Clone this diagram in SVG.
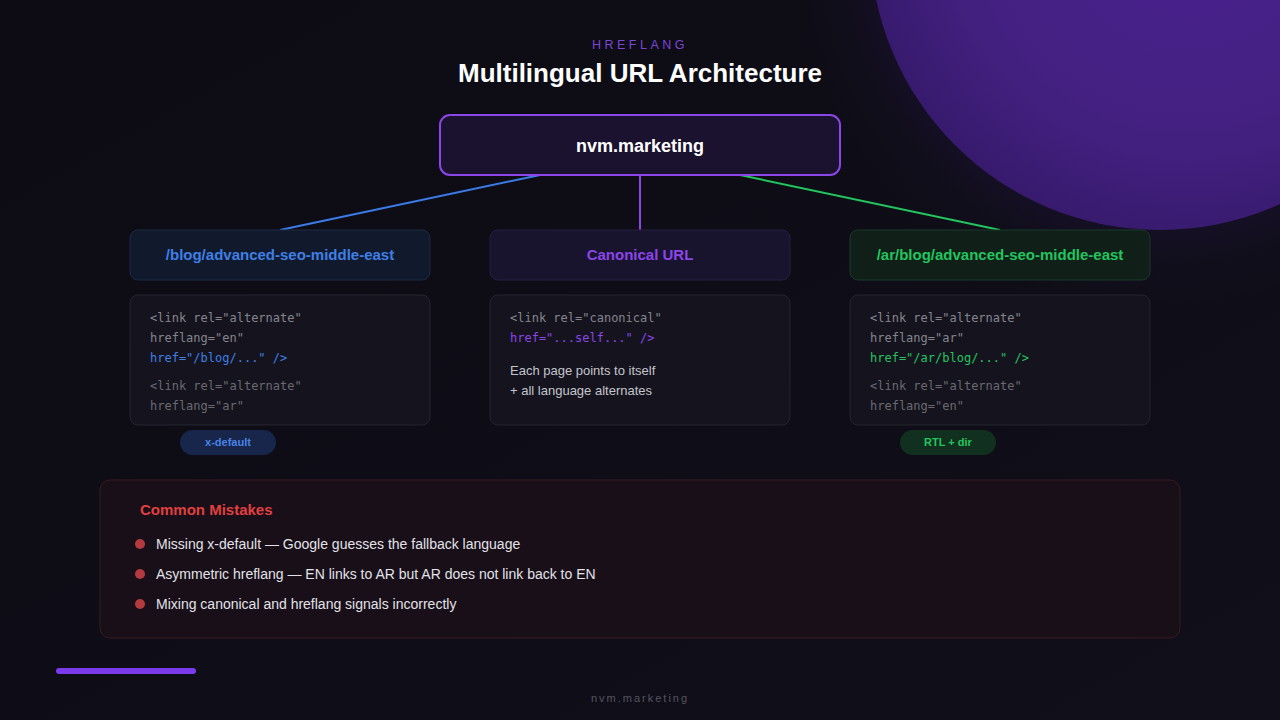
<svg xmlns="http://www.w3.org/2000/svg" width="1280" height="720" viewBox="0 0 1280 720">
<defs>
<radialGradient id="orb" cx="0.55" cy="0.45" r="0.6">
<stop offset="0" stop-color="#4a2290"/>
<stop offset="0.7" stop-color="#42207f"/>
<stop offset="1" stop-color="#35196a"/>
</radialGradient>
<radialGradient id="halo" cx="0.5" cy="0.5" r="0.5">
<stop offset="0.55" stop-color="#2a1450" stop-opacity="0.8"/>
<stop offset="1" stop-color="#0f0e17" stop-opacity="0"/>
</radialGradient>
<linearGradient id="bg" x1="0" y1="0" x2="1" y2="1">
<stop offset="0" stop-color="#0d0c14"/>
<stop offset="1" stop-color="#100f1a"/>
</linearGradient>
<style>
.sans{font-family:"Liberation Sans",Arial,sans-serif}
.mono{font-family:"DejaVu Sans Mono","Liberation Mono",monospace;font-size:12px;fill:#85848e}
.hdr{font-family:"Liberation Sans",Arial,sans-serif;font-size:15px;font-weight:bold;text-anchor:middle}
.code{fill:#15141e;stroke:#25242f;stroke-width:1}
.bul{font-family:"Liberation Sans",Arial,sans-serif;font-size:14px;fill:#e2e2e8}
.dot{fill:#b33a3e}
.pill{font-family:"Liberation Sans",Arial,sans-serif;font-size:11px;font-weight:bold;text-anchor:middle}
</style>
</defs>
<rect width="1280" height="720" fill="url(#bg)"/>
<circle cx="1160" cy="-60" r="380" fill="url(#halo)"/>
<circle cx="1160" cy="-60" r="290" fill="url(#orb)"/>

<text x="640" y="49" text-anchor="middle" class="sans" font-size="12.5" letter-spacing="3.5" fill="#7a45d8">HREFLANG</text>
<text x="640" y="82" text-anchor="middle" class="sans" font-size="26" font-weight="bold" fill="#ffffff">Multilingual URL Architecture</text>

<g id="connectors" fill="none" stroke-width="2">
<line x1="540" y1="175" x2="280" y2="230" stroke="#3b7be8"/>
<line x1="640" y1="175" x2="640" y2="230" stroke="#8b45e8"/>
<line x1="740" y1="175" x2="1000" y2="230" stroke="#22c55e"/>
</g>

<g id="root">
<rect x="440" y="115" width="400" height="60" rx="10" fill="#1b1230" stroke="#8b45e8" stroke-width="2"/>
<text x="640" y="152" text-anchor="middle" class="sans" font-size="18" font-weight="bold" fill="#ffffff">nvm.marketing</text>
</g>

<g id="en-page">
<rect x="130" y="230" width="300" height="50" rx="8" fill="#111a2d" stroke="#1d2a45"/>
<text x="280" y="260" class="hdr" fill="#3f7fe6">/blog/advanced-seo-middle-east</text>
</g>
<g id="en-code">
<rect x="130" y="295" width="300" height="130" rx="8" class="code"/>
<text x="150" y="322" class="mono">&lt;link rel="alternate"</text>
<text x="150" y="342" class="mono">hreflang="en"</text>
<text x="150" y="362" class="mono" style="fill:#3f7fe6">href="/blog/..." /&gt;</text>
<text x="150" y="390" class="mono" style="fill:#6a6972">&lt;link rel="alternate"</text>
<text x="150" y="410" class="mono" style="fill:#6a6972">hreflang="ar"</text>
</g>
<g id="x-default">
<rect x="180" y="430" width="96" height="25" rx="12.5" fill="#17264a"/>
<text x="228" y="446" class="pill" fill="#4a82e6">x-default</text>
</g>

<g id="canonical">
<rect x="490" y="230" width="300" height="50" rx="8" fill="#19142e" stroke="#271e42"/>
<text x="640" y="260" class="hdr" fill="#8b45e8">Canonical URL</text>
</g>
<g id="canonical-code">
<rect x="490" y="295" width="300" height="130" rx="8" class="code"/>
<text x="510" y="322" class="mono">&lt;link rel="canonical"</text>
<text x="510" y="342" class="mono" style="fill:#8b45e8">href="...self..." /&gt;</text>
<text x="510" y="375" class="sans" font-size="13" fill="#c4c4cc">Each page points to itself</text>
<text x="510" y="395" class="sans" font-size="13" fill="#c4c4cc">+ all language alternates</text>
</g>

<g id="ar-page">
<rect x="850" y="230" width="300" height="50" rx="8" fill="#102019" stroke="#19382a"/>
<text x="1000" y="260" class="hdr" fill="#22c55e">/ar/blog/advanced-seo-middle-east</text>
</g>
<g id="ar-code">
<rect x="850" y="295" width="300" height="130" rx="8" class="code"/>
<text x="870" y="322" class="mono">&lt;link rel="alternate"</text>
<text x="870" y="342" class="mono">hreflang="ar"</text>
<text x="870" y="362" class="mono" style="fill:#22c55e">href="/ar/blog/..." /&gt;</text>
<text x="870" y="390" class="mono" style="fill:#6a6972">&lt;link rel="alternate"</text>
<text x="870" y="410" class="mono" style="fill:#6a6972">hreflang="en"</text>
</g>
<g id="rtl">
<rect x="900" y="430" width="96" height="25" rx="12.5" fill="#12301f"/>
<text x="948" y="446" class="pill" fill="#22c55e">RTL + dir</text>
</g>

<g id="mistakes">
<rect x="100" y="480" width="1080" height="158" rx="10" fill="#180f18" stroke="#3a1a22"/>
<text x="140" y="515" class="sans" font-size="15" font-weight="bold" fill="#e0403f">Common Mistakes</text>
<circle cx="140" cy="544" r="5" class="dot"/>
<text x="156" y="549" class="bul">Missing x-default — Google guesses the fallback language</text>
<circle cx="140" cy="574" r="5" class="dot"/>
<text x="156" y="579" class="bul">Asymmetric hreflang — EN links to AR but AR does not link back to EN</text>
<circle cx="140" cy="604" r="5" class="dot"/>
<text x="156" y="609" class="bul">Mixing canonical and hreflang signals incorrectly</text>
</g>

<rect x="56" y="668" width="140" height="6" rx="3" fill="#7c3aed"/>
<text x="640" y="702" text-anchor="middle" class="sans" font-size="11" letter-spacing="2" fill="#55545f">nvm.marketing</text>
</svg>
